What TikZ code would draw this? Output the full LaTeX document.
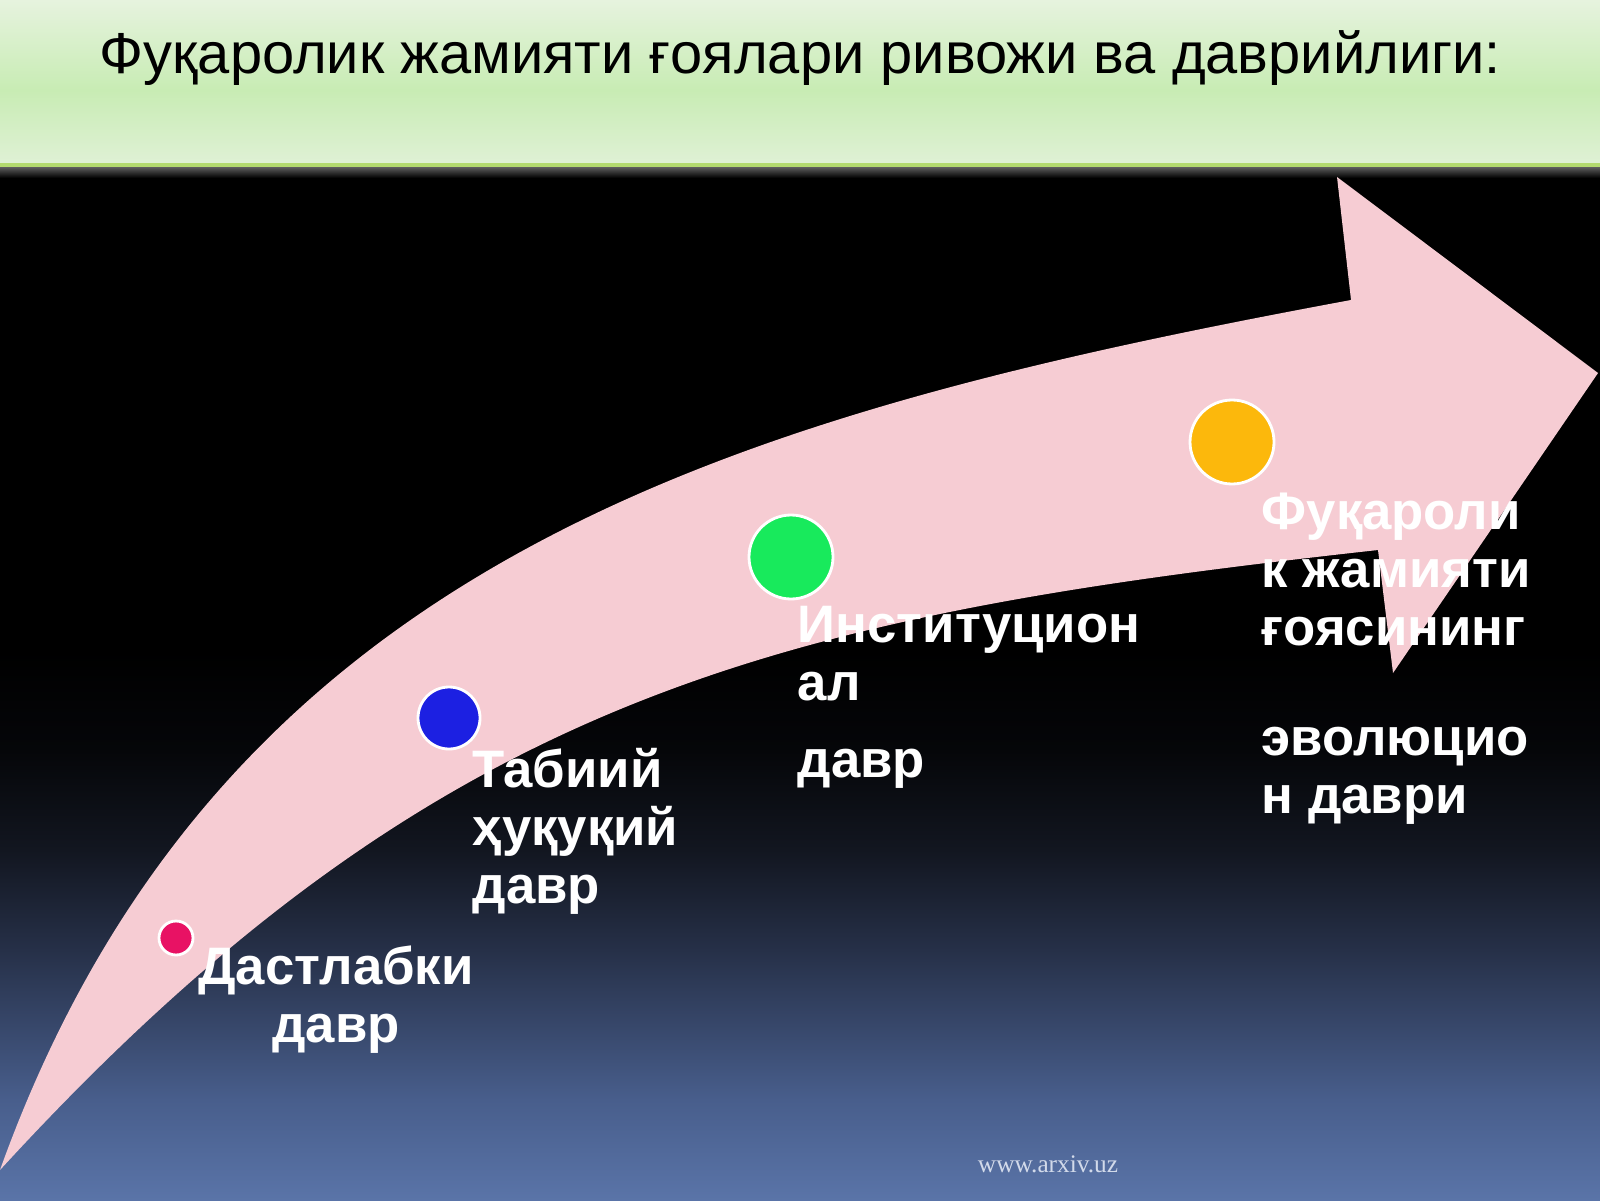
\documentclass[tikz,border=0pt]{standalone}
\usepackage{graphicx}
\usepackage{fontspec}
\setmainfont{Liberation Sans}
\newfontfamily\webfont{Liberation Serif}
\usetikzlibrary{positioning}
\definecolor{arrowpink}{RGB}{246,204,211}
\definecolor{bartop}{RGB}{230,243,222}
\definecolor{barmid}{RGB}{200,236,180}
\definecolor{barlow}{RGB}{224,241,214}
\definecolor{barline}{RGB}{178,218,110}
\definecolor{bgA}{RGB}{90,116,168}
\definecolor{bgB}{RGB}{72,94,140}
\definecolor{bgC}{RGB}{38,48,72}
\definecolor{bgD}{RGB}{18,22,32}
\definecolor{bgE}{RGB}{5,6,9}
\definecolor{dotred}{RGB}{232,18,100}
\definecolor{dotblue}{RGB}{28,32,226}
\definecolor{dotgreen}{RGB}{24,234,92}
\definecolor{dotorange}{RGB}{252,184,12}
\definecolor{webgrey}{RGB}{210,218,234}
\tikzset{
  stagedot/.style={circle,draw=white,line width=0.8pt,inner sep=0pt},
  stagelabel/.style={text=white,font=\bfseries\fontsize{15}{16.5}\selectfont,inner sep=0pt,align=left,anchor=base west}
}

\begin{document}
\begin{tikzpicture}
\useasboundingbox (0,0) rectangle (16,12);
%background
\shade[bottom color=bgA,top color=bgB](0,0)rectangle(16,1);
\shade[bottom color=bgB,top color=bgC](0,1)rectangle(16,2.5);
\shade[bottom color=bgC,top color=bgD](0,2.5)rectangle(16,3.5);
\shade[bottom color=bgD,top color=bgE](0,3.5)rectangle(16,4.5);
\shade[bottom color=bgE,top color=black](0,4.5)rectangle(16,5.5);
\fill[black](0,5.5)rectangle(16,12);
%title bar
\shade[bottom color=black,top color=black!60](0,10.22)rectangle(16,10.34);
\shade[bottom color=barlow,top color=barmid](0,10.34)rectangle(16,11.1);
\shade[bottom color=barmid,top color=bartop](0,11.1)rectangle(16,12);
\draw[barline,line width=1pt](0,10.35)--(16,10.35);
\node[anchor=base west,inner sep=0pt] (title) at (0.99,11.265)
  {\resizebox{14.01cm}{!}{Фуқаролик жамияти ғоялари ривожи ва даврийлиги:}};
%arrow
\fill[arrowpink](0,0.30) .. controls (2.21,6.45) and (7.42,7.87) .. (13.51,9.0)
  -- (13.37,10.23) -- (15.98,8.27) -- (13.93,5.27) -- (13.78,6.5)
  .. controls (7.82,5.84) and (4.39,5.09) .. (0,0.30) -- cycle;
%stages
\node[stagedot,fill=dotred,minimum size=0.34cm] (d1) at (1.76,2.62){};
\node[stagedot,fill=dotblue,minimum size=0.62cm] (d2) at (4.49,4.82){};
\node[stagedot,fill=dotgreen,minimum size=0.84cm] (d3) at (7.91,6.43){};
\node[stagedot,fill=dotorange,minimum size=0.84cm] (d4) at (12.32,7.58){};
%labels (base = last line)
\node[stagelabel,align=center,anchor=base] (l1) at (3.36,1.58){Дастлабки\\давр};
\node[stagelabel] (l2) at (4.72,2.97){Табиий\\ҳуқуқий\\давр};
\node[stagelabel] (l3) at (7.97,4.23){Институцион\\ал\\[0.19cm]давр};
\node[stagelabel] (l4) at (12.61,3.87){Фуқароли\\к жамияти\\ғоясининг\\[0.52cm]эволюцио\\н даври};
\node[text=webgrey,font=\webfont\fontsize{7.2}{8}\selectfont] (web) at (10.48,0.36){www.arxiv.uz};
\end{tikzpicture}
\end{document}
